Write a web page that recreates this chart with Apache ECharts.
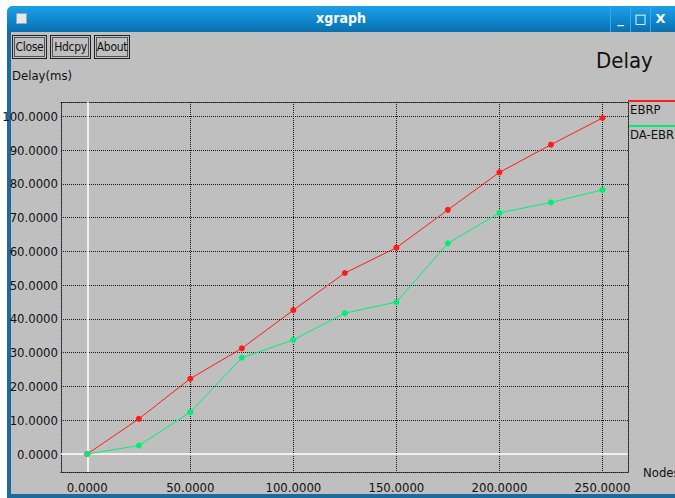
<!DOCTYPE html>
<html>
<head>
<meta charset="utf-8">
<script src="https://cdn.jsdelivr.net/npm/echarts@6/dist/echarts.min.js"></script>
<style>
  html, body { margin: 0; padding: 0; background: #ffffff; }
  body { width: 675px; height: 498px; position: relative; overflow: hidden;
         font-family: "DejaVu Sans Condensed", "Liberation Sans", sans-serif; }
  .win { position: absolute; left: 7px; top: 6px; width: 680px; height: 492px;
         background: #1d6a9c; border-top-left-radius: 6px; }
  .titlebar { position: absolute; left: 0; top: 0; width: 668px; height: 26px;
              background: linear-gradient(#1ea0e6, #0f86cc 55%, #0a6fae);
              border-top-left-radius: 6px; }
  .titlebar .name { position: absolute; left: 0; width: 668px; top: 4px; text-align: center;
                    color: #fff; font: bold 14px "DejaVu Sans Condensed", "DejaVu Sans", sans-serif; }
  .titlebar .icon { position: absolute; left: 9px; top: 7px; width: 9px; height: 9px;
                    background: #e8e8e8; border: 1px solid #9aa; }
  .ctl { position: absolute; top: 0; width: 19px; height: 26px; border-left: 1px solid #3aa8e8;
         color: #fff; font: bold 13px "DejaVu Sans", sans-serif; text-align: center; line-height: 26px; }
  .content { position: absolute; left: 4px; top: 26px; width: 680px; height: 462px; background: #bfbfbf; }
  .btn { position: absolute; top: 3px; height: 22px; border: 1px solid #222; box-shadow: inset 0 0 0 1px #bfbfbf, inset 0 0 0 2px #555;
         font-size: 12px; line-height: 22px; text-align: center; color: #111; letter-spacing: -0.3px; }
  #chart { position: absolute; left: 0; top: 0; width: 675px; height: 498px; }
</style>
</head>
<body>
<div class="win">
  <div class="titlebar">
    <div class="icon"></div>
    <div class="name">xgraph</div>
    <div class="ctl" style="left:603px">_</div>
    <div class="ctl" style="left:623px">&#9633;</div>
    <div class="ctl" style="left:643px">X</div>
  </div>
  <div class="content">
    <div class="btn" style="left:1px;width:33px">Close</div>
    <div class="btn" style="left:39px;width:39px">Hdcpy</div>
    <div class="btn" style="left:83px;width:34px">About</div>
  </div>
</div>
<div id="chart"></div>
<script>
// 数据
const nodes = [0, 25, 50, 75, 100, 125, 150, 175, 200, 225, 250];
const ebrp = [0, 10.4, 22.3, 31.3, 42.6, 53.6, 61.1, 72.3, 83.4, 91.6, 99.5];
const daEbrp = [0, 2.5, 12.4, 28.5, 33.8, 41.7, 45.0, 62.4, 71.4, 74.5, 78.2];
const seriesNames = ['EBRP', 'DA-EBRP'];
const seriesColors = ['#ff1a1a', '#00ee77'];
// 刻度
const xTicks = [0, 50, 100, 150, 200, 250];
const yTicks = [0, 10, 20, 30, 40, 50, 60, 70, 80, 90, 100];

const font = '"DejaVu Sans Condensed", "Liberation Sans", sans-serif';
const dotted = { color: '#1a1a1a', width: 1, type: [1, 1] };

const myChart = echarts.init(document.getElementById('chart'), null, { renderer: 'svg' });

const xMin = -12.76, xMax = 262.4;
const yMin = -5.33, yMax = 104.24;

myChart.setOption({
  animation: false,
  backgroundColor: 'transparent',
  textStyle: { fontFamily: font },
  title: {
    text: 'Delay', left: 591, top: 44,
    textStyle: { fontSize: 22, fontWeight: 'normal', color: '#111', fontFamily: font }
  },
  grid: { left: 61, top: 102, width: 567, height: 370, containLabel: false, outerBoundsMode: 'none' },
  xAxis: [
    {
      type: 'value', min: xMin, max: xMax, position: 'bottom',
      name: 'Nodes', nameLocation: 'end', nameGap: 15,
      nameTextStyle: { fontSize: 13, color: '#111', fontFamily: font },
      axisLine: { show: true, onZero: false, lineStyle: dotted },
      axisTick: { show: false, customValues: xTicks.slice(1) },
      axisLabel: { customValues: xTicks, formatter: v => v.toFixed(4), fontSize: 13, color: '#111', margin: 9 },
      splitLine: { show: true, lineStyle: dotted }
    },
    {
      type: 'value', min: xMin, max: xMax, position: 'top',
      axisLine: { show: true, onZero: false, lineStyle: dotted },
      axisTick: { show: false }, axisLabel: { show: false }, splitLine: { show: false }
    }
  ],
  yAxis: [
    {
      type: 'value', min: yMin, max: yMax, position: 'left',
      axisLine: { show: true, onZero: false, lineStyle: dotted },
      axisTick: { show: false, customValues: yTicks.slice(1) },
      axisLabel: { customValues: yTicks, formatter: v => v.toFixed(4), fontSize: 13, color: '#111', margin: 3 },
      splitLine: { show: true, lineStyle: dotted }
    },
    {
      type: 'value', min: yMin, max: yMax, position: 'right',
      axisLine: { show: true, onZero: false, lineStyle: dotted },
      axisTick: { show: false }, axisLabel: { show: false }, splitLine: { show: false }
    }
  ],
  graphic: [
    { type: 'text', left: 12, top: 69, style: { text: 'Delay(ms)', fontSize: 13, fill: '#111', fontFamily: font } },
    { type: 'line', shape: { x1: 628, y1: 101, x2: 680, y2: 101 }, style: { stroke: seriesColors[0], lineWidth: 2 } },
    { type: 'text', left: 630, top: 103, style: { text: seriesNames[0], fontSize: 13, fill: '#111', fontFamily: font } },
    { type: 'line', shape: { x1: 628, y1: 126, x2: 680, y2: 126 }, style: { stroke: seriesColors[1], lineWidth: 2 } },
    { type: 'text', left: 630, top: 128, style: { text: seriesNames[1], fontSize: 13, fill: '#111', fontFamily: font } }
  ],
  series: [
    {
      name: seriesNames[0], type: 'line',
      data: nodes.map((n, i) => [n, ebrp[i]]),
      symbol: 'circle', symbolSize: 6, showSymbol: true,
      itemStyle: { color: seriesColors[0] },
      lineStyle: { color: seriesColors[0], width: 1 },
      z: 3,
      markLine: {
        silent: true, symbol: 'none', animation: false,
        label: { show: false },
        lineStyle: { color: '#ffffff', type: 'solid', width: 1.5 },
        data: [{ xAxis: 0 }, { yAxis: 0 }],
        z: 1
      }
    },
    {
      name: seriesNames[1], type: 'line',
      data: nodes.map((n, i) => [n, daEbrp[i]]),
      symbol: 'circle', symbolSize: 6, showSymbol: true,
      itemStyle: { color: seriesColors[1] },
      lineStyle: { color: seriesColors[1], width: 1 },
      z: 4
    }
  ]
});
</script>
</body>
</html>
